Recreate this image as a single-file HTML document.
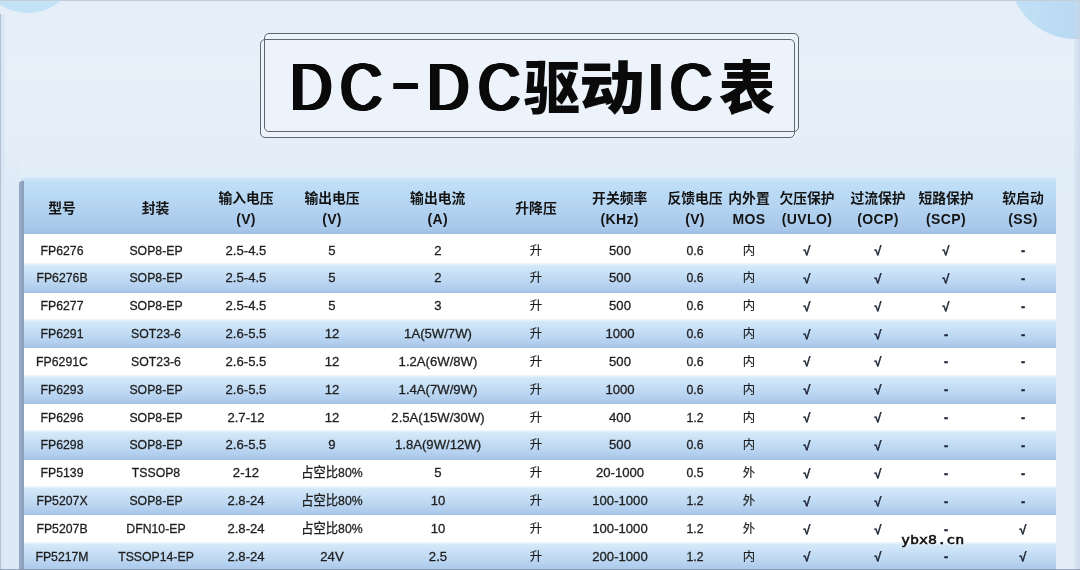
<!DOCTYPE html>
<html lang="zh-CN">
<head>
<meta charset="utf-8">
<title>DC-DC驱动IC表</title>
<style>
html,body{margin:0;padding:0;}
body{width:1080px;height:570px;overflow:hidden;position:relative;background:#e9f0f9;
 font-family:"Liberation Sans","Noto Sans CJK SC",sans-serif;color:#1c1c1c;}
.bg{position:absolute;left:0;top:0;width:1080px;height:570px;overflow:hidden;
 background:linear-gradient(180deg,#e5eef8 0px,#e7eff9 70px,#e5eef8 140px,#e1edf8 177px,#e3edf8 200px,#e3edf8 570px);}
.bg:before{content:"";position:absolute;left:-22px;top:-87px;width:100px;height:100px;border-radius:50%;background:#c3e2f6;}
.bg:after{content:"";position:absolute;left:1009px;top:-94px;width:133px;height:133px;border-radius:50%;background:linear-gradient(100deg,#c4e4f8 0%,#b6d6f0 70%);}
.tp{position:absolute;left:0;top:0;width:1080px;height:1px;background:#c3ccd8;}
.rs{position:absolute;left:1074px;top:0;width:6px;height:570px;background:linear-gradient(90deg,rgba(205,218,234,.35),rgba(198,212,230,.7));}
.frame{position:absolute;border:1.25px solid #5e6875;border-radius:5px;box-sizing:border-box;}
.fa{left:264px;top:33px;width:535px;height:99px;}
.fb{left:260px;top:39px;width:535px;height:99px;}
.ff{position:absolute;left:261px;top:34px;width:538px;height:103px;border-radius:5px;background:rgba(241,246,252,.62);}
.t{position:absolute;top:0;white-space:nowrap;color:#0a0a0a;line-height:1;}
.tl{font-family:"Liberation Sans",sans-serif;font-weight:normal;font-size:64px;transform-origin:50% 100%;transform:scale(.9,1.05);
 text-shadow:.8px 0 0 #0a0a0a,-.8px 0 0 #0a0a0a,1.6px 0 0 #0a0a0a,-1.6px 0 0 #0a0a0a,2.3px 0 0 #0a0a0a,-2.3px 0 0 #0a0a0a;}
.tc{font-family:"Liberation Sans","Noto Sans CJK SC",sans-serif;font-weight:900;font-size:56px;transform-origin:50% 100%;transform:scaleY(1.04);}
.tbl{position:absolute;left:22px;top:178px;width:1034px;height:392px;background:#fff;}
.lb{position:absolute;left:19px;top:181px;width:4.6px;height:389px;background:linear-gradient(90deg,#9babc8,#899dbd);border-radius:3px 0 0 0;}
.ls{position:absolute;left:0;top:14px;width:5px;height:556px;background:linear-gradient(90deg,#b3c1d2 0,#b3c1d2 .8px,#d9e5f2 1px,#dde8f5 100%);}
.lg{position:absolute;left:5px;top:150px;width:15px;height:420px;background:linear-gradient(180deg,rgba(222,233,246,0),#dee9f6 12%);}
.hd{position:absolute;left:21px;top:177px;width:1035px;height:57px;
 background:linear-gradient(180deg,#d6eaf8 0%,#c2e0f6 7%,#b9daf5 30%,#b0d0ef 65%,#a7c6ea 92%,#9ebde3 100%);border-radius:4px 0 0 0;}
.br{position:absolute;left:22px;width:1034px;height:29.2px;
 background:linear-gradient(180deg,#f3f9fd 0%,#d4e9f9 9%,#c8e0f6 35%,#bcd7f2 62%,#adcaec 90%,#a2c0e5 100%);}
.h{position:absolute;width:120px;text-align:center;font-weight:bold;font-size:13.8px;line-height:20px;color:#141414;white-space:nowrap;}
.h i{font-style:normal;font-size:14px;letter-spacing:.35px;}
.c{position:absolute;width:140px;text-align:center;font-size:13.2px;line-height:20px;color:#1e1e1e;white-space:nowrap;transform:scaleX(.93);-webkit-text-stroke:.3px #1e1e1e;}
.w{transform:scaleX(.995);}
.z{font-size:12.4px;-webkit-text-stroke:.15px #1e1e1e;transform:none;}
.k{font-weight:bold;font-size:12.6px;-webkit-text-stroke:.35px #1a2233;color:#1a2233;transform:none;margin-top:.5px;}
.bl{position:absolute;left:0;top:569px;width:1080px;height:1px;background:rgba(128,142,166,.75);}
.c,.h{filter:blur(.35px);}
.t{filter:blur(.4px);}
.wm{position:absolute;filter:blur(.3px);left:900.5px;top:530.5px;font-family:"DejaVu Sans Mono",monospace;font-size:12.3px;line-height:18px;color:#0c0c0c;transform-origin:0 0;transform:scaleX(1.22);
 -webkit-text-stroke:.45px #0c0c0c;text-shadow:0 0 2px rgba(255,255,255,.9),0 0 3px rgba(255,255,255,.8);}
</style>
</head>
<body>
<div class="bg"></div>
<div class="tp"></div>
<div class="rs"></div>
<div class="ls"></div>
<div class="lg"></div>
<div class="ff"></div>
<div class="frame fa"></div>
<div class="frame fb"></div>
<div class="title">
<span class="t tl" style="left:288px;top:56.3px">D</span>
<span class="t tl" style="left:338px;top:56.3px">C</span>
<span class="t tl" style="left:394.5px;top:48.8px;transform:scale(1.22,1.15);transform-origin:50% 50%">-</span>
<span class="t tl" style="left:425px;top:56.3px">D</span>
<span class="t tl" style="left:476px;top:56.3px">C</span>
<span class="t tc" style="left:524px;top:62px">驱</span>
<span class="t tc" style="left:584px;top:62px;transform:scale(1.17,1.04)">动</span>
<span class="t tl" style="left:647px;top:56.3px">I</span>
<span class="t tl" style="left:668px;top:56.3px">C</span>
<span class="t tc" style="left:719px;top:62px">表</span>
</div>
<div class="tbl"></div>
<div class="hd"></div>
<div class="br" style="top:263.40px"></div>
<div class="br" style="top:319.08px"></div>
<div class="br" style="top:374.76px"></div>
<div class="br" style="top:430.44px"></div>
<div class="br" style="top:486.12px"></div>
<div class="br" style="top:541.80px"></div>
<div class="lb"></div>
<div class="h" style="left:2.0px;top:199px">型号</div>
<div class="h" style="left:95.5px;top:199px">封装</div>
<div class="h" style="left:186.0px;top:189px">输入电压<br><i>(V)</i></div>
<div class="h" style="left:272.0px;top:189px">输出电压<br><i>(V)</i></div>
<div class="h" style="left:377.7px;top:189px">输出电流<br><i>(A)</i></div>
<div class="h" style="left:476.0px;top:199px">升降压</div>
<div class="h" style="left:559.7px;top:189px">开关频率<br><i>(KHz)</i></div>
<div class="h" style="left:635.0px;top:189px">反馈电压<br><i>(V)</i></div>
<div class="h" style="left:689.0px;top:189px">内外置<br><i>MOS</i></div>
<div class="h" style="left:747.0px;top:189px">欠压保护<br><i>(UVLO)</i></div>
<div class="h" style="left:818.0px;top:189px">过流保护<br><i>(OCP)</i></div>
<div class="h" style="left:886.0px;top:189px">短路保护<br><i>(SCP)</i></div>
<div class="h" style="left:963.0px;top:189px">软启动<br><i>(SS)</i></div>
<div class="c" style="left:-8.0px;top:240.60px">FP6276</div>
<div class="c" style="left:85.5px;top:240.60px">SOP8-EP</div>
<div class="c w" style="left:176.0px;top:240.60px">2.5-4.5</div>
<div class="c w" style="left:262.0px;top:240.60px">5</div>
<div class="c w" style="left:367.7px;top:240.60px">2</div>
<div class="c z" style="left:466.0px;top:240.60px">升</div>
<div class="c w" style="left:549.7px;top:240.60px">500</div>
<div class="c" style="left:625.0px;top:240.60px">0.6</div>
<div class="c z" style="left:679.0px;top:240.60px">内</div>
<div class="c k" style="left:737.0px;top:240.60px">√</div>
<div class="c k" style="left:808.0px;top:240.60px">√</div>
<div class="c k" style="left:876.0px;top:240.60px">√</div>
<div class="c k" style="left:953.0px;top:240.60px">-</div>
<div class="c" style="left:-8.0px;top:268.44px">FP6276B</div>
<div class="c" style="left:85.5px;top:268.44px">SOP8-EP</div>
<div class="c w" style="left:176.0px;top:268.44px">2.5-4.5</div>
<div class="c w" style="left:262.0px;top:268.44px">5</div>
<div class="c w" style="left:367.7px;top:268.44px">2</div>
<div class="c z" style="left:466.0px;top:268.44px">升</div>
<div class="c w" style="left:549.7px;top:268.44px">500</div>
<div class="c" style="left:625.0px;top:268.44px">0.6</div>
<div class="c z" style="left:679.0px;top:268.44px">内</div>
<div class="c k" style="left:737.0px;top:268.44px">√</div>
<div class="c k" style="left:808.0px;top:268.44px">√</div>
<div class="c k" style="left:876.0px;top:268.44px">√</div>
<div class="c k" style="left:953.0px;top:268.44px">-</div>
<div class="c" style="left:-8.0px;top:296.28px">FP6277</div>
<div class="c" style="left:85.5px;top:296.28px">SOP8-EP</div>
<div class="c w" style="left:176.0px;top:296.28px">2.5-4.5</div>
<div class="c w" style="left:262.0px;top:296.28px">5</div>
<div class="c w" style="left:367.7px;top:296.28px">3</div>
<div class="c z" style="left:466.0px;top:296.28px">升</div>
<div class="c w" style="left:549.7px;top:296.28px">500</div>
<div class="c" style="left:625.0px;top:296.28px">0.6</div>
<div class="c z" style="left:679.0px;top:296.28px">内</div>
<div class="c k" style="left:737.0px;top:296.28px">√</div>
<div class="c k" style="left:808.0px;top:296.28px">√</div>
<div class="c k" style="left:876.0px;top:296.28px">√</div>
<div class="c k" style="left:953.0px;top:296.28px">-</div>
<div class="c" style="left:-8.0px;top:324.12px">FP6291</div>
<div class="c" style="left:85.5px;top:324.12px">SOT23-6</div>
<div class="c w" style="left:176.0px;top:324.12px">2.6-5.5</div>
<div class="c w" style="left:262.0px;top:324.12px">12</div>
<div class="c w" style="left:367.7px;top:324.12px">1A(5W/7W)</div>
<div class="c z" style="left:466.0px;top:324.12px">升</div>
<div class="c w" style="left:549.7px;top:324.12px">1000</div>
<div class="c" style="left:625.0px;top:324.12px">0.6</div>
<div class="c z" style="left:679.0px;top:324.12px">内</div>
<div class="c k" style="left:737.0px;top:324.12px">√</div>
<div class="c k" style="left:808.0px;top:324.12px">√</div>
<div class="c k" style="left:876.0px;top:324.12px">-</div>
<div class="c k" style="left:953.0px;top:324.12px">-</div>
<div class="c" style="left:-8.0px;top:351.96px">FP6291C</div>
<div class="c" style="left:85.5px;top:351.96px">SOT23-6</div>
<div class="c w" style="left:176.0px;top:351.96px">2.6-5.5</div>
<div class="c w" style="left:262.0px;top:351.96px">12</div>
<div class="c w" style="left:367.7px;top:351.96px">1.2A(6W/8W)</div>
<div class="c z" style="left:466.0px;top:351.96px">升</div>
<div class="c w" style="left:549.7px;top:351.96px">500</div>
<div class="c" style="left:625.0px;top:351.96px">0.6</div>
<div class="c z" style="left:679.0px;top:351.96px">内</div>
<div class="c k" style="left:737.0px;top:351.96px">√</div>
<div class="c k" style="left:808.0px;top:351.96px">√</div>
<div class="c k" style="left:876.0px;top:351.96px">-</div>
<div class="c k" style="left:953.0px;top:351.96px">-</div>
<div class="c" style="left:-8.0px;top:379.80px">FP6293</div>
<div class="c" style="left:85.5px;top:379.80px">SOP8-EP</div>
<div class="c w" style="left:176.0px;top:379.80px">2.6-5.5</div>
<div class="c w" style="left:262.0px;top:379.80px">12</div>
<div class="c w" style="left:367.7px;top:379.80px">1.4A(7W/9W)</div>
<div class="c z" style="left:466.0px;top:379.80px">升</div>
<div class="c w" style="left:549.7px;top:379.80px">1000</div>
<div class="c" style="left:625.0px;top:379.80px">0.6</div>
<div class="c z" style="left:679.0px;top:379.80px">内</div>
<div class="c k" style="left:737.0px;top:379.80px">√</div>
<div class="c k" style="left:808.0px;top:379.80px">√</div>
<div class="c k" style="left:876.0px;top:379.80px">-</div>
<div class="c k" style="left:953.0px;top:379.80px">-</div>
<div class="c" style="left:-8.0px;top:407.64px">FP6296</div>
<div class="c" style="left:85.5px;top:407.64px">SOP8-EP</div>
<div class="c w" style="left:176.0px;top:407.64px">2.7-12</div>
<div class="c w" style="left:262.0px;top:407.64px">12</div>
<div class="c w" style="left:367.7px;top:407.64px">2.5A(15W/30W)</div>
<div class="c z" style="left:466.0px;top:407.64px">升</div>
<div class="c w" style="left:549.7px;top:407.64px">400</div>
<div class="c" style="left:625.0px;top:407.64px">1.2</div>
<div class="c z" style="left:679.0px;top:407.64px">内</div>
<div class="c k" style="left:737.0px;top:407.64px">√</div>
<div class="c k" style="left:808.0px;top:407.64px">√</div>
<div class="c k" style="left:876.0px;top:407.64px">-</div>
<div class="c k" style="left:953.0px;top:407.64px">-</div>
<div class="c" style="left:-8.0px;top:435.48px">FP6298</div>
<div class="c" style="left:85.5px;top:435.48px">SOP8-EP</div>
<div class="c w" style="left:176.0px;top:435.48px">2.6-5.5</div>
<div class="c w" style="left:262.0px;top:435.48px">9</div>
<div class="c w" style="left:367.7px;top:435.48px">1.8A(9W/12W)</div>
<div class="c z" style="left:466.0px;top:435.48px">升</div>
<div class="c w" style="left:549.7px;top:435.48px">500</div>
<div class="c" style="left:625.0px;top:435.48px">0.6</div>
<div class="c z" style="left:679.0px;top:435.48px">内</div>
<div class="c k" style="left:737.0px;top:435.48px">√</div>
<div class="c k" style="left:808.0px;top:435.48px">√</div>
<div class="c k" style="left:876.0px;top:435.48px">-</div>
<div class="c k" style="left:953.0px;top:435.48px">-</div>
<div class="c" style="left:-8.0px;top:463.32px">FP5139</div>
<div class="c" style="left:85.5px;top:463.32px">TSSOP8</div>
<div class="c w" style="left:176.0px;top:463.32px">2-12</div>
<div class="c" style="left:262.0px;top:463.32px">占空比80%</div>
<div class="c w" style="left:367.7px;top:463.32px">5</div>
<div class="c z" style="left:466.0px;top:463.32px">升</div>
<div class="c w" style="left:549.7px;top:463.32px">20-1000</div>
<div class="c" style="left:625.0px;top:463.32px">0.5</div>
<div class="c z" style="left:679.0px;top:463.32px">外</div>
<div class="c k" style="left:737.0px;top:463.32px">√</div>
<div class="c k" style="left:808.0px;top:463.32px">√</div>
<div class="c k" style="left:876.0px;top:463.32px">-</div>
<div class="c k" style="left:953.0px;top:463.32px">-</div>
<div class="c" style="left:-8.0px;top:491.16px">FP5207X</div>
<div class="c" style="left:85.5px;top:491.16px">SOP8-EP</div>
<div class="c w" style="left:176.0px;top:491.16px">2.8-24</div>
<div class="c" style="left:262.0px;top:491.16px">占空比80%</div>
<div class="c w" style="left:367.7px;top:491.16px">10</div>
<div class="c z" style="left:466.0px;top:491.16px">升</div>
<div class="c w" style="left:549.7px;top:491.16px">100-1000</div>
<div class="c" style="left:625.0px;top:491.16px">1.2</div>
<div class="c z" style="left:679.0px;top:491.16px">外</div>
<div class="c k" style="left:737.0px;top:491.16px">√</div>
<div class="c k" style="left:808.0px;top:491.16px">√</div>
<div class="c k" style="left:876.0px;top:491.16px">-</div>
<div class="c k" style="left:953.0px;top:491.16px">-</div>
<div class="c" style="left:-8.0px;top:519.00px">FP5207B</div>
<div class="c" style="left:85.5px;top:519.00px">DFN10-EP</div>
<div class="c w" style="left:176.0px;top:519.00px">2.8-24</div>
<div class="c" style="left:262.0px;top:519.00px">占空比80%</div>
<div class="c w" style="left:367.7px;top:519.00px">10</div>
<div class="c z" style="left:466.0px;top:519.00px">升</div>
<div class="c w" style="left:549.7px;top:519.00px">100-1000</div>
<div class="c" style="left:625.0px;top:519.00px">1.2</div>
<div class="c z" style="left:679.0px;top:519.00px">外</div>
<div class="c k" style="left:737.0px;top:519.00px">√</div>
<div class="c k" style="left:808.0px;top:519.00px">√</div>
<div class="c k" style="left:876.0px;top:519.00px">-</div>
<div class="c k" style="left:953.0px;top:519.00px">√</div>
<div class="c" style="left:-8.0px;top:546.84px">FP5217M</div>
<div class="c" style="left:85.5px;top:546.84px">TSSOP14-EP</div>
<div class="c w" style="left:176.0px;top:546.84px">2.8-24</div>
<div class="c w" style="left:262.0px;top:546.84px">24V</div>
<div class="c w" style="left:367.7px;top:546.84px">2.5</div>
<div class="c z" style="left:466.0px;top:546.84px">升</div>
<div class="c w" style="left:549.7px;top:546.84px">200-1000</div>
<div class="c" style="left:625.0px;top:546.84px">1.2</div>
<div class="c z" style="left:679.0px;top:546.84px">内</div>
<div class="c k" style="left:737.0px;top:546.84px">√</div>
<div class="c k" style="left:808.0px;top:546.84px">√</div>
<div class="c k" style="left:876.0px;top:546.84px">-</div>
<div class="c k" style="left:953.0px;top:546.84px">√</div>
<div class="bl"></div>
<div class="wm">ybx8.cn</div>
</body>
</html>
